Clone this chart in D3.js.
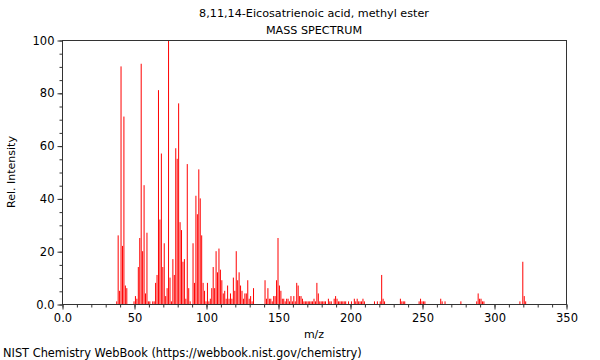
<!DOCTYPE html>
<html><head><meta charset="utf-8">
<script src="https://cdn.jsdelivr.net/npm/d3@7"></script>
<style>body{margin:0;background:#fff}svg{display:block}text{font-family:"DejaVu Sans",sans-serif;fill:#000}</style>
</head><body><svg id="c" width="600" height="360"></svg>
<script>
const titleLines = ["8,11,14-Eicosatrienoic acid, methyl ester", "MASS SPECTRUM"];
const mz = [38,39,40,41,42,43,44,45,50,51,52,53,54,55,56,57,58,59,60,61,63,64,65,66,67,68,69,70,71,72,73,74,75,76,77,78,79,80,81,82,83,84,85,86,87,88,89,91,92,93,94,95,96,97,98,99,100,101,102,103,104,105,106,107,108,109,110,111,112,113,114,115,116,117,118,119,120,121,122,123,124,125,126,127,128,129,130,131,132,133,141,142,143,144,145,146,147,148,149,150,151,152,153,154,155,156,157,158,159,160,161,162,163,164,165,166,167,168,169,170,171,172,173,174,175,176,177,178,179,180,181,182,183,185,186,187,189,190,191,192,193,194,195,196,197,199,201,203,204,205,206,207,208,209,210,217,219,221,222,223,224,235,236,237,238,248,249,250,251,252,263,264,266,277,288,289,290,291,292,293,318,320,321,322];
const intensity = [1,26,5,90,22,71,7,6,1,3,2,14,25,91,20,45,4,27,1,1,1,1,8,11,81,32,57,14,23,3,6,100,10,1,17,11,59,55,76,31,28,16,17,2,53,6,1,23,8,41,34,51,40,26,8,5,1,8,1,2,6,14,6,20,12,21,13,9,4,5,2,7,2,4,2,10,5,20,9,12,7,5,2,4,4,9,2,3,1,6,9,2,6,2,2,1,3,3,9,25,7,5,2,2,1,2,2,1,3,1,3,1,8,7,3,3,2,1,1,1,1,1,1,1,2,1,8,4,1,1,1,1,1,2,1,1,2,3,2,1,1,1,1,1,1,1,1,2,1,2,1,1,1,2,1,1,1,1,11,2,1,2,1,1,1,1,2,1,1,1,2,1,1,1,1,4,2,2,1,1,1,16,3,1];
const xTicks = [0,50,100,150,200,250,300,350];
const yTicks = [0,20,40,60,80,100];
const xLabel = "m/z", yLabel = "Rel. Intensity";
const footer = "NIST Chemistry WebBook (https://webbook.nist.gov/chemistry)";

const svg = d3.select("#c");
const L = 62, R = 566, T = 40, B = 304;
const x = d3.scaleLinear().domain([0,350]).range([L,R]);
const y = d3.scaleLinear().domain([0,100]).range([B,T]);

svg.append("text").attr("x",314).attr("y",17).attr("text-anchor","middle").attr("font-size",11.2).text(titleLines[0]);
svg.append("text").attr("x",314).attr("y",34).attr("text-anchor","middle").attr("font-size",11.2).text(titleLines[1]);

// peaks
svg.append("g").selectAll("line").data(mz).join("line")
  .attr("x1",(d)=>x(d)).attr("x2",(d)=>x(d))
  .attr("y1",y(0)).attr("y2",(d,i)=>y(intensity[i]))
  .attr("stroke","#ff0000").attr("stroke-width",1);

// frame
svg.append("rect").attr("x",L+0.5).attr("y",T+0.5).attr("width",R-L).attr("height",B-T)
  .attr("fill","none").attr("stroke","#333").attr("stroke-width",1);

// x axis
const gx = svg.append("g").attr("transform",`translate(0.5,${B+0.5})`);
gx.call(d3.axisBottom(x).tickValues(d3.range(0,351,10)).tickSize(3).tickFormat(""))
  .call(g=>g.select(".domain").remove()).selectAll("line").attr("stroke","#333");
const gx2 = svg.append("g").attr("transform",`translate(0.5,${B+0.5})`);
gx2.call(d3.axisBottom(x).tickValues(xTicks).tickSize(5).tickPadding(4).tickFormat(d=>d===0?"0.0":d))
  .call(g=>g.select(".domain").remove());
gx2.selectAll("line").attr("stroke","#333");
gx2.selectAll("text").attr("font-size",11.5).attr("font-family","DejaVu Sans").attr("fill","#000");

// y axis
const gy = svg.append("g").attr("transform",`translate(${L+0.5},0.5)`);
gy.call(d3.axisLeft(y).tickValues(d3.range(0,101,5)).tickSize(3).tickFormat(""))
  .call(g=>g.select(".domain").remove()).selectAll("line").attr("stroke","#333");
const gy2 = svg.append("g").attr("transform",`translate(${L+0.5},0.5)`);
gy2.call(d3.axisLeft(y).tickValues(yTicks).tickSize(5).tickPadding(3).tickFormat(d=>d===0?"0.0":d))
  .call(g=>g.select(".domain").remove());
gy2.selectAll("line").attr("stroke","#333");
gy2.selectAll("text").attr("font-size",11.5).attr("font-family","DejaVu Sans").attr("fill","#000");

svg.append("text").attr("x",314).attr("y",338).attr("text-anchor","middle").attr("font-size",11).text(xLabel);
svg.append("text").attr("transform","translate(15,172) rotate(-90)").attr("text-anchor","middle").attr("font-size",11).text(yLabel);
svg.append("text").attr("x",3).attr("y",357).attr("font-size",11.4).text(footer);
</script></body></html>
